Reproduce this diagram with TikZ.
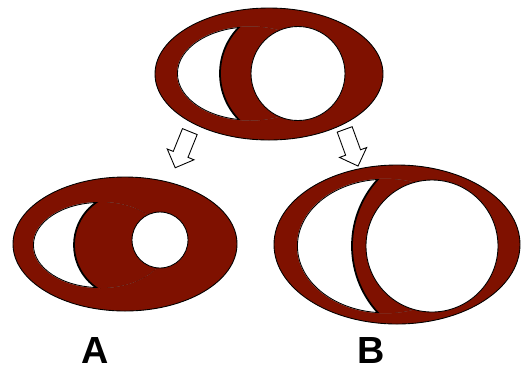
\documentclass[tikz,border=0pt]{standalone}
\usepackage{fontspec}
\setsansfont{Liberation Sans}
\usetikzlibrary{shapes.arrows}
\definecolor{eyered}{HTML}{7F1100}

\begin{document}
\begin{tikzpicture}[x=0.02cm, y=-0.02cm,
rim/.style={fill=eyered, draw=black, line width=0.5pt},
hole/.style={fill=white, draw=black, line width=0.5pt},
hollowarrow/.style={single arrow, draw=black, fill=white, line width=0.5pt, inner sep=0pt, inner ysep=0.15cm, minimum height=0.78cm, single arrow head extend=0.13cm},
letter/.style={font=\sffamily\bfseries\fontsize{21.5}{25}\selectfont}]
\useasboundingbox (0,0) rectangle (521,370);
% the three eyes: outer rim, crescent, pupil
\foreach \ex/\ey/\erx/\ery/\cx/\cy/\crx/\cry/\dx/\dr/\px/\py/\pr in {
 269/74/114/66/250/73.5/73/47/286/66/298/73.5/47,
 125/244/112/67/100/245/67/43/126/52/160/240/28,
 397/244.5/123/79.5/385/246/88/67.2/451/99/432/246/66} {
\filldraw[rim] (\ex,\ey) ellipse [x radius=\erx, y radius=\ery];
\begin{scope}
\clip (\cx,\cy) ellipse [x radius=\crx, y radius=\cry];
\filldraw[hole, line width=1pt] (\cx,\cy) ellipse [x radius=\crx, y radius=\cry];
\filldraw[rim, line width=1pt] (\dx,\cy) circle (\dr);
\end{scope}
\filldraw[hole] (\px,\py) circle (\pr);
}
\node[hollowarrow, rotate=-112] (arrowA) at (184,146) {};
\node[hollowarrow, rotate=-70] (arrowB) at (350,144) {};
\node[letter] (labA) at (95,350) {A};
\node[letter] (labB) at (371,350) {B};
\end{tikzpicture}
\end{document}
